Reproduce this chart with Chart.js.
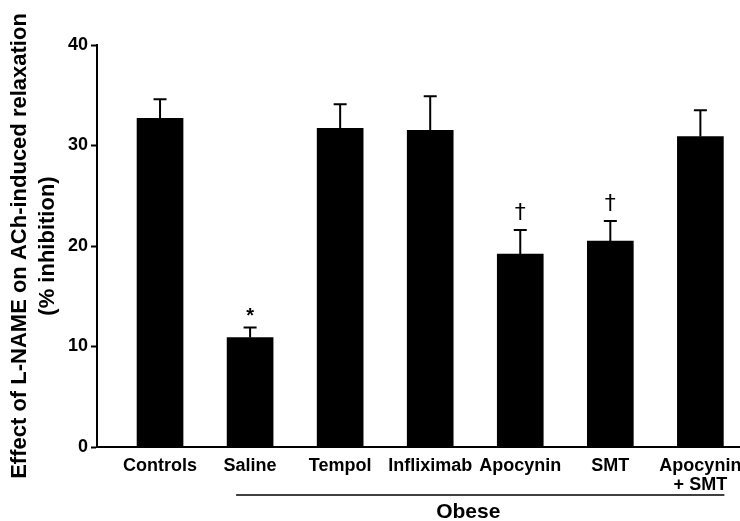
<!DOCTYPE html>
<html>
<head>
<meta charset="utf-8">
<script src="https://cdn.jsdelivr.net/npm/chart.js@4"></script>
<style>
  html, body { margin: 0; padding: 0; background: #fff; }
  #wrap { width: 740px; height: 521px; }
</style>
</head>
<body>
<div id="wrap"><canvas id="myChart"></canvas></div>
<script>
const categories = ['Controls', 'Saline', 'Tempol', 'Infliximab', 'Apocynin', 'SMT', 'Apocynin\n+ SMT'];
const means = [32.7, 10.9, 31.7, 31.5, 19.2, 20.5, 30.9];
const sem = [1.9, 1.0, 2.4, 3.4, 2.4, 2.0, 2.6];
const marks = ['', '*', '', '', '†', '†', ''];
const yTicks = [0, 10, 20, 30, 40];
const groupLabel = 'Obese';
const groupFrom = 1, groupTo = 6;

const FONT = '"Liberation Sans", Arial, Helvetica, sans-serif';

// error bars, significance marks and the "Obese" bracket
const extras = {
  id: 'extras',
  afterDatasetsDraw(chart) {
    const { ctx, scales: { x, y } } = chart;
    ctx.save();
    ctx.strokeStyle = '#000';
    ctx.fillStyle = '#000';
    ctx.lineWidth = 2;
    means.forEach((m, i) => {
      const px = x.getPixelForValue(i);
      const y0 = y.getPixelForValue(m);
      const y1 = y.getPixelForValue(m + sem[i]);
      ctx.beginPath();
      ctx.moveTo(px, y0);
      ctx.lineTo(px, y1);
      ctx.moveTo(px - 6.5, y1);
      ctx.lineTo(px + 6.5, y1);
      ctx.stroke();
      if (marks[i]) {
        ctx.textAlign = 'center';
        ctx.textBaseline = 'bottom';
        if (marks[i] === '*') {
          ctx.font = 'bold 20px ' + FONT;
          ctx.fillText(marks[i], px, y1 - 1);
        } else {
          ctx.font = '22px "DejaVu Sans", ' + FONT;
          ctx.fillText(marks[i], px, y1 - 6);
        }
      }
    });
    // group bracket
    const lx0 = x.getPixelForValue(groupFrom) - 14;
    const lx1 = x.getPixelForValue(groupTo) + 24;
    ctx.lineWidth = 1.5;
    ctx.beginPath();
    ctx.moveTo(lx0, 495);
    ctx.lineTo(lx1, 495);
    ctx.stroke();
    ctx.font = 'bold 21px ' + FONT;
    ctx.textAlign = 'center';
    ctx.textBaseline = 'alphabetic';
    ctx.fillText(groupLabel, (x.getPixelForValue(groupFrom) + x.getPixelForValue(groupTo)) / 2 - 7, 518);
    ctx.restore();
  }
};

const ctx = document.getElementById('myChart');

new Chart(ctx, {
  type: 'bar',
  data: {
    datasets: [{
      data: means.map((v, i) => ({ x: i, y: v })),
      backgroundColor: '#000',
      borderColor: '#000',
      borderWidth: 0,
      barThickness: 46
    }]
  },
  options: {
    responsive: true,
    maintainAspectRatio: false,
    animation: false,
    layout: { padding: { top: 45, right: 0, bottom: 0, left: 0 } },
    plugins: {
      legend: { display: false },
      tooltip: { enabled: false }
    },
    scales: {
      x: {
        type: 'linear',
        offset: false,
        min: -0.7,
        max: 6.44,
        grid: { display: false, offset: false },
        border: { display: true, color: '#000', width: 2 },
        afterBuildTicks: (scale) => {
          scale.ticks = categories.map((c, i) => ({ value: i }));
        },
        afterFit: (scale) => {
          scale.height = 74;
          scale.paddingRight = 0;
          scale.paddingLeft = 0;
        },
        ticks: {
          autoSkip: false,
          maxRotation: 0,
          minRotation: 0,
          padding: 2,
          color: '#000',
          font: { family: FONT, size: 18, weight: 'bold', lineHeight: 1.05 },
          callback: (value) => {
            const c = categories[value];
            return c ? c.split('\n') : '';
          }
        }
      },
      y: {
        min: 0,
        max: 40,
        grid: { display: true, drawOnChartArea: false, color: '#000', tickLength: 6, tickWidth: 2 },
        border: { display: true, color: '#000', width: 2 },
        afterBuildTicks: (scale) => {
          scale.ticks = yTicks.map(v => ({ value: v }));
        },
        afterFit: (scale) => {
          scale.width = 97;
        },
        ticks: {
          padding: 3,
          color: '#000',
          font: { family: FONT, size: 18, weight: 'bold' }
        },
        title: {
          display: true,
          text: ['Effect of L-NAME on ACh-induced relaxation', '(% inhibition)'],
          color: '#000',
          padding: { top: 6, bottom: 0 },
          font: { family: FONT, size: 22, weight: 'bold', lineHeight: 1.27 }
        }
      }
    }
  },
  plugins: [extras]
});
</script>
</body>
</html>
